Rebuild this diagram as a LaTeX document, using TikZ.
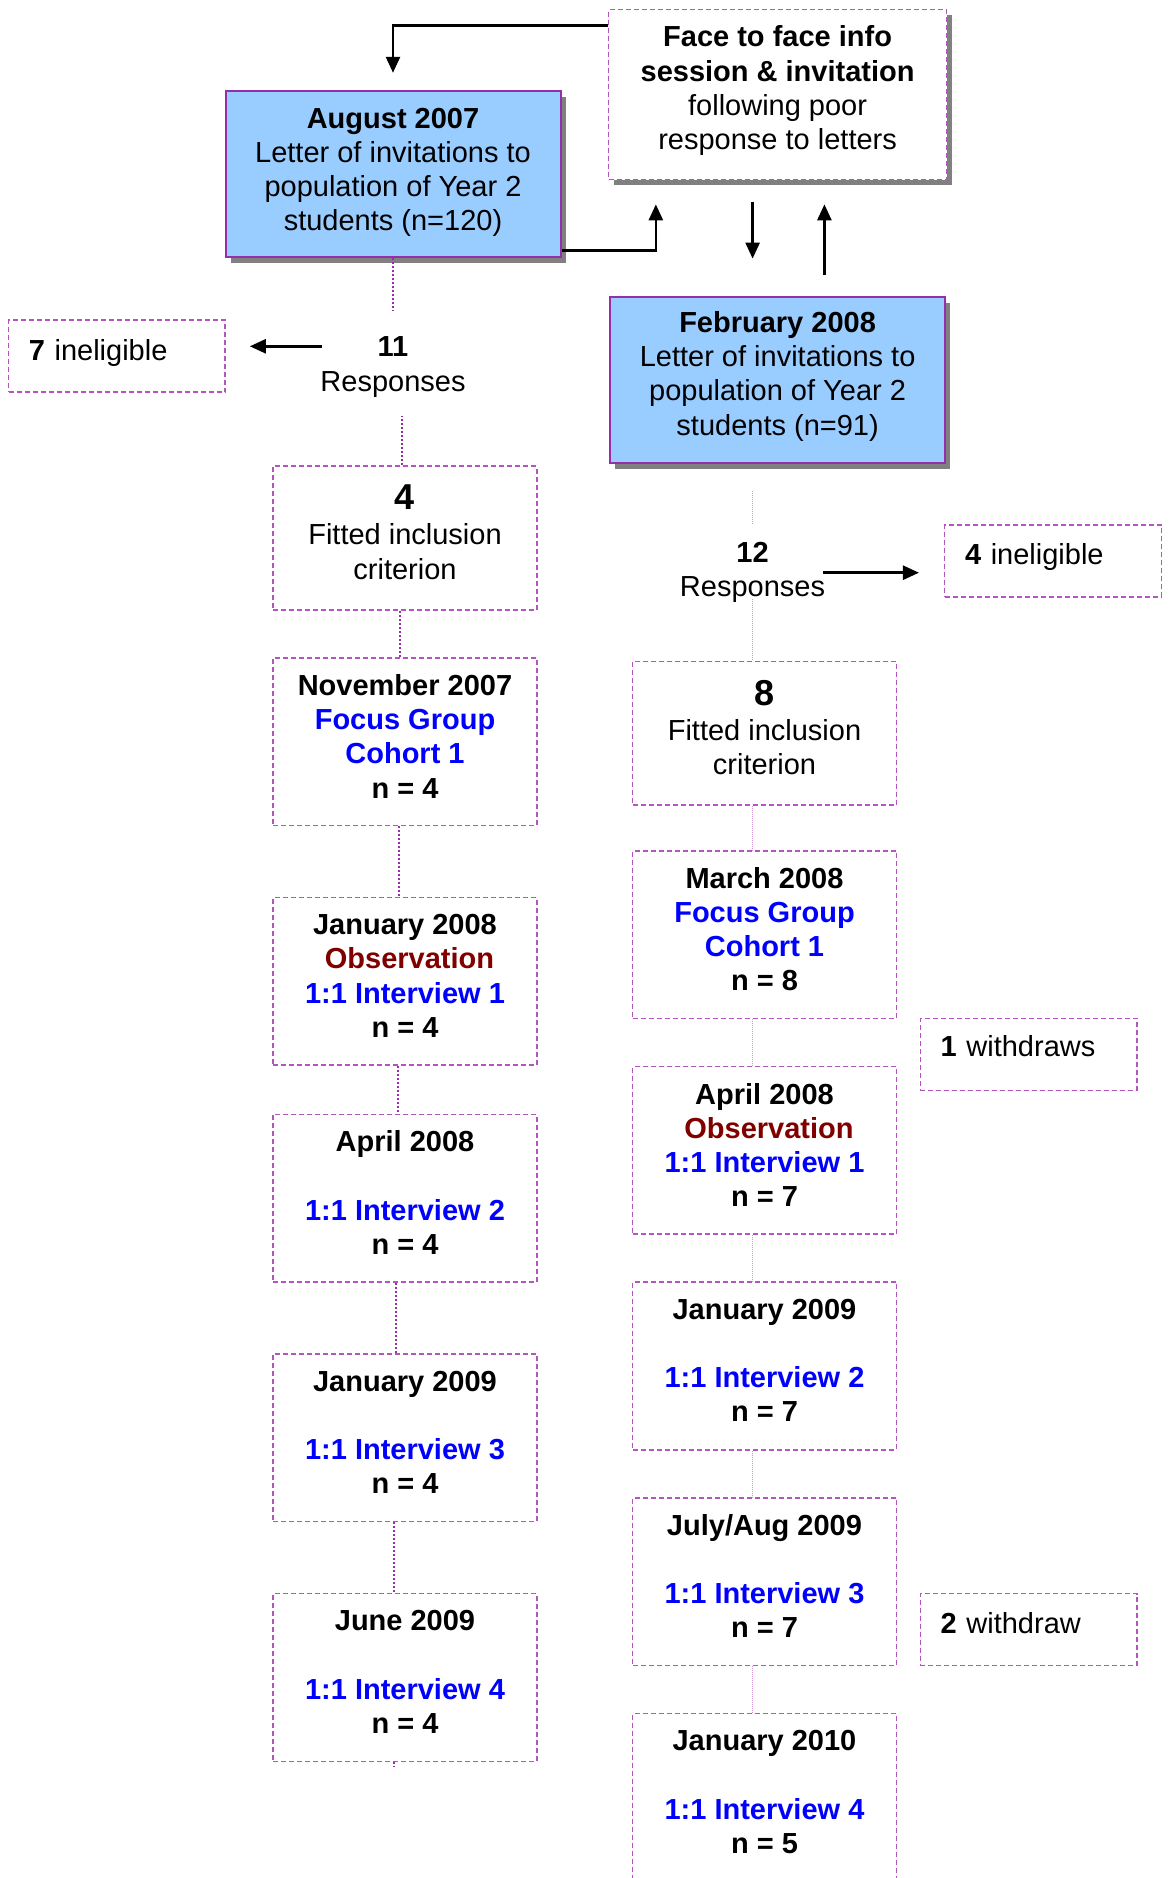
\documentclass[tikz,border=0pt]{standalone}
\usepackage{fontspec}
\setmainfont{Liberation Sans}
\usetikzlibrary{arrows.meta,shadows,calc}
\definecolor{boxblue}{HTML}{99CCFF}
\definecolor{lilac}{RGB}{180,85,190}
\definecolor{plum}{RGB}{150,45,170}
\definecolor{paleplum}{RGB}{210,150,215}
\definecolor{shadowgray}{HTML}{808080}
\definecolor{txtblue}{HTML}{0000FF}
\definecolor{txtred}{HTML}{800000}
\newcommand{\bl}[1]{\textcolor{txtblue}{#1}}
\newcommand{\rd}[1]{\textcolor{txtred}{#1}}
\newcommand{\bignum}[1]{{\fontsize{36}{40}\selectfont\bfseries #1}}
% extra depth below the last line, lifting a centred text block
\newcommand{\lift}[1]{\rule[-#1pt]{0pt}{#1pt}}

\begin{document}
\begin{tikzpicture}[x=1pt,y=-1pt,
  every node/.style={font=\fontsize{29}{34.2}\selectfont, align=center, inner sep=0pt},
  letterbox/.style={draw=plum, line width=2pt, fill=boxblue,
    minimum width=335pt, minimum height=166pt,
    drop shadow={shadow xshift=5pt, shadow yshift=-6pt, fill=shadowgray, opacity=1}},
  dashline/.style={draw=lilac, line width=1.5pt, dash pattern=on 5pt off 3pt},
  facebox/.style={dashline, fill=white, minimum width=338pt, minimum height=170pt,
    drop shadow={shadow xshift=5pt, shadow yshift=-5pt, fill=shadowgray, opacity=1}},
  phase/.style={dashline, minimum width=263.6pt, minimum height=167.7pt,
    font=\fontsize{29}{34.2}\selectfont\bfseries, execute at end node=\lift{11}},
  fitbox/.style={dashline, minimum width=263.6pt, minimum height=143.8pt,
    execute at end node=\lift{12}},
  notebox/.style={dashline, minimum width=216.6pt, minimum height=72pt, text width=176pt, align=left},
  leftdot/.style={draw=plum, line width=2pt, dash pattern=on 2pt off 2pt},
  rightdot/.style={draw=paleplum, line width=1.2pt, dash pattern=on 1pt off 1pt},
  arrowline/.style={draw=black, line width=2.6pt, -{Triangle[length=16pt,width=14pt]}}
]
\clip (0,0) rectangle (1173,1878);

% invitation stage
\node[facebox] (face) at (777.6,94.6)
  {\textbf{Face to face info}\\\textbf{session \& invitation}\\following poor\\response to letters\lift{14}};
\node[letterbox] (aug) at (393,173.8)
  {\textbf{August 2007}\\Letter of invitations to\\population of Year 2\\students (n=120)\lift{9}};
\node[letterbox] (feb) at (777.6,379.8)
  {\textbf{February 2008}\\Letter of invitations to\\population of Year 2\\students (n=91)\lift{13}};

\draw[arrowline] ($(face.north west)+(0,16.8)$) -| ($(aug.north)+(0,-17)$);
\draw[arrowline] ($(aug.south east)+(0,-7.2)$) -| ($(face.south west)+(48,24)$);
\draw[arrowline] ($(face.south)+(-25,21.6)$) -- ($(feb.north)+(-25,-37.2)$);
\draw[arrowline] ($(feb.north)+(46.8,-20.4)$) -- ($(face.south)+(46.8,24)$);

% cohort of August 2007
\node (resp1) at (393,367) {\textbf{11}\\Responses};
\node[notebox] (inel1) at (116.8,355.9) {\textbf{7} ineligible\lift{11}};
\draw[arrowline] ($(inel1.east)+(96,-9.6)$) -- ($(inel1.east)+(24,-9.6)$);

\node[fitbox] (fitL) at (405,538) {\bignum{4}\\[1pt]Fitted inclusion\\criterion};
\node[phase] (novL) at (405,741.7) {November 2007\\\bl{Focus Group}\\\bl{Cohort 1}\\n = 4};
\node[phase] (janL) at (405,981.3) {January 2008\\\hspace*{9pt}\rd{Observation}\\\bl{1:1 Interview 1}\\n = 4};
\node[phase] (aprL) at (405,1198.2) {April 2008\\[34.2pt]\bl{1:1 Interview 2}\\n = 4};
\node[phase] (jan9L) at (405,1437.8) {January 2009\\[34.2pt]\bl{1:1 Interview 3}\\n = 4};
\node[phase] (junL) at (405,1677.5) {June 2009\\[34.2pt]\bl{1:1 Interview 4}\\n = 4};

\draw[leftdot] (aug.south) -- ++(0,53);
\draw[leftdot] ([xshift=-3pt]fitL.north) -- ++(0,-49);
\draw[leftdot] ([xshift=-5pt]fitL.south) -- ([xshift=-5pt]novL.north);
\draw[leftdot] ([xshift=-6pt]novL.south) -- ([xshift=-6pt]janL.north);
\draw[leftdot] ([xshift=-7pt]janL.south) -- ([xshift=-7pt]aprL.north);
\draw[leftdot] ([xshift=-9pt]aprL.south) -- ([xshift=-9pt]jan9L.north);
\draw[leftdot] ([xshift=-11pt]jan9L.south) -- ([xshift=-11pt]junL.north);
\draw[leftdot] ([xshift=-11pt]junL.south) -- ++(0,5);

% cohort of February 2008
\node (resp2) at (752.5,572) {\textbf{12}\\Responses};
\node[notebox] (inel2) at (1053,560.8) {\textbf{4} ineligible\lift{14}};
\draw[arrowline] ($(inel2.west)+(-120.8,11.9)$) -- ($(inel2.west)+(-25,11.9)$);

\node[fitbox] (fitR) at (764.5,733.3) {\bignum{8}\\[1pt]Fitted inclusion\\criterion};
\node[phase] (marR) at (764.5,934.6) {March 2008\\\bl{Focus Group}\\\bl{Cohort 1}\\n = 8};
\node[notebox] (wd1) at (1028.6,1054.4) {\textbf{1} withdraws\lift{16}};
\node[phase] (aprR) at (764.5,1150.3) {April 2008\\\hspace*{9pt}\rd{Observation}\\\bl{1:1 Interview 1}\\n = 7};
\node[phase] (janR) at (764.5,1366) {January 2009\\[34.2pt]\bl{1:1 Interview 2}\\n = 7};
\node[phase] (julR) at (764.5,1581.6) {July/Aug 2009\\[34.2pt]\bl{1:1 Interview 3}\\n = 7};
\node[notebox] (wd2) at (1028.6,1629.6) {\textbf{2} withdraw\lift{13}};
\node[phase] (jan10R) at (764.5,1797.4) {January 2010\\[34.2pt]\bl{1:1 Interview 4}\\n = 5};

\draw[rightdot] ($(resp2 |- feb.south)+(0,27)$) -- ++(0,33);
\draw[rightdot] ($(resp2 |- fitR.north)+(0,-62)$) -- (resp2 |- fitR.north);
\draw[rightdot] (resp2 |- fitR.south) -- (resp2 |- marR.north);
\draw[rightdot] (resp2 |- marR.south) -- (resp2 |- aprR.north);
\draw[rightdot] (resp2 |- aprR.south) -- (resp2 |- janR.north);
\draw[rightdot] (resp2 |- janR.south) -- (resp2 |- julR.north);
\draw[rightdot] (resp2 |- julR.south) -- (resp2 |- jan10R.north);
\end{tikzpicture}
\end{document}
